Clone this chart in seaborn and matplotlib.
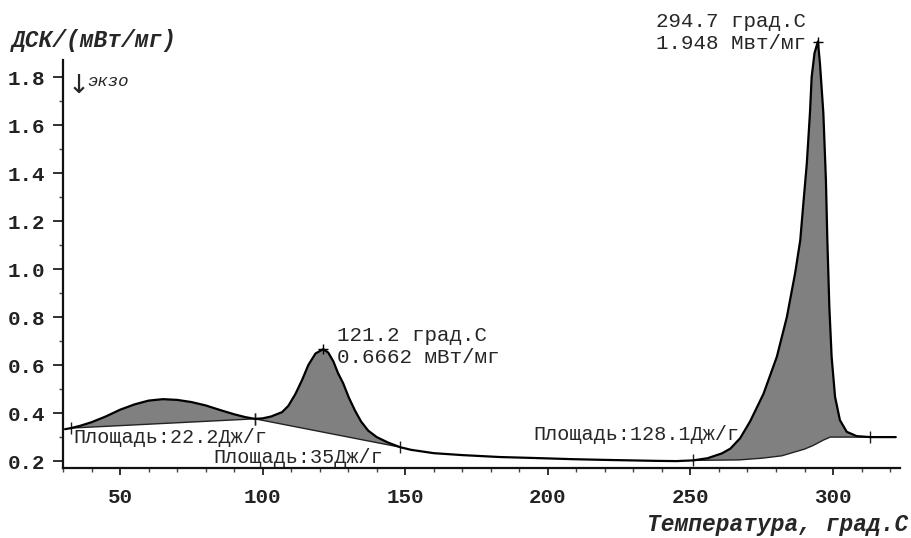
import numpy as np
import matplotlib.pyplot as plt
import seaborn as sns
from matplotlib.ticker import MultipleLocator, FormatStrFormatter

# DSC curve (temperature, grad C / mW per mg)
temp = [30.7, 32.8, 36, 40, 45, 50, 55, 60, 65, 70, 75, 80, 85, 90, 94, 97.3,
        100, 103, 106.8, 109, 111.5, 113.8, 116, 118.5, 121.2, 123, 124.8, 126.4,
        128.2, 130.2, 132.4, 134.5, 137, 140, 144, 148.2, 152, 156, 160, 170, 183,
        195, 208.8, 220, 238, 245, 251, 256, 261, 264, 267.4, 270.9, 275.6, 280.3,
        283.8, 286.7, 288.5, 289.6, 290.8, 291.9, 292.5, 293.5, 294.7, 295.4, 296.6,
        297.5, 298.0, 298.7, 299.5, 300.7, 302.4, 304.8, 308.3, 313, 322]
dsc = [0.333, 0.3375, 0.347, 0.362, 0.386, 0.414, 0.436, 0.452, 0.458, 0.455,
       0.446, 0.432, 0.413, 0.395, 0.383, 0.376,
       0.378, 0.386, 0.404, 0.43, 0.48, 0.5375, 0.60, 0.648, 0.6662, 0.652, 0.615,
       0.567, 0.525, 0.465, 0.41, 0.365, 0.327, 0.30, 0.277, 0.258, 0.247, 0.240,
       0.233, 0.225, 0.217, 0.213, 0.208, 0.205, 0.201, 0.200, 0.203, 0.212, 0.232,
       0.252, 0.295, 0.365, 0.48, 0.635, 0.80, 0.983, 1.12, 1.275, 1.44, 1.65,
       1.80, 1.90, 1.948, 1.858, 1.65, 1.37, 1.12, 0.843, 0.635, 0.468, 0.371,
       0.322, 0.304, 0.30, 0.30]

# integration baselines of the three peaks
base_t = [[32.8, 97.3],
          [97.3, 148.2],
          [251, 267, 275, 282, 286, 290, 293, 296.6, 299, 313]]
base_v = [[0.3375, 0.376],
          [0.376, 0.258],
          [0.203, 0.205, 0.212, 0.222, 0.236, 0.25, 0.265, 0.2875, 0.30, 0.30]]
area_labels = ['Площадь:22.2Дж/г', 'Площадь:35Дж/г', 'Площадь:128.1Дж/г']
area_x = [33.5, 82.6, 194.8]
area_y = [0.300, 0.2167, 0.3125]

peak_t = [121.2, 294.7]
peak_v = [0.6662, 1.948]
peak_units = ['мВт/мг', 'Мвт/мг']

sns.set_style('ticks')
plt.rcParams['font.family'] = ['Liberation Mono', 'DejaVu Sans Mono']

fig = plt.figure(figsize=(9.11, 5.38), dpi=100)
ax = fig.add_axes([0.0692, 0.130, 0.9188, 0.7585])

temp_a = np.array(temp)
dsc_a = np.array(dsc)

# shaded peak areas
for bt, bv in zip(base_t, base_v):
    m = (temp_a >= bt[0]) & (temp_a <= bt[-1])
    xs = np.concatenate([temp_a[m], bt[::-1]])
    ys = np.concatenate([dsc_a[m], bv[::-1]])
    ax.fill(xs, ys, color='#808080', lw=0, zorder=1, clip_on=False)
    ax.plot(bt, bv, color='#222222', lw=1.0, zorder=2)
    ax.plot([bt[0], bt[-1]], [bv[0], bv[-1]], ls='none', marker='|',
            ms=9, mew=1.0, color='#222222', zorder=3)

sns.lineplot(x=temp, y=dsc, ax=ax, color='black', lw=1.6, sort=False,
             estimator=None, zorder=4, clip_on=False)
ax.plot(peak_t, peak_v, ls='none', marker='+', ms=7, mew=1.0, color='black',
        zorder=5, clip_on=False)

for t, v, u in zip(peak_t, peak_v, peak_units):
    txt = f'{t:.1f} град.С\n{v:g} {u}'
    if t < 200:
        ax.annotate(txt, (t, v), xytext=(14, 3), textcoords='offset pixels',
                    ha='left', va='center', fontsize=15, linespacing=1.2,
                    annotation_clip=False)
    else:
        ax.annotate(txt, (t, v), xytext=(-162, 9), textcoords='offset pixels',
                    ha='left', va='center', fontsize=15, linespacing=1.2,
                    annotation_clip=False)

for lab, x, y in zip(area_labels, area_x, area_y):
    ax.text(x, y, lab, fontsize=14.5, ha='left', va='center', zorder=6)

ax.set_xlim(30.0, 323.5)
ax.set_ylim(0.171, 1.871)
ax.xaxis.set_major_locator(MultipleLocator(50))
ax.xaxis.set_minor_locator(MultipleLocator(10))
ax.yaxis.set_major_locator(MultipleLocator(0.2))
ax.yaxis.set_minor_locator(MultipleLocator(0.1))
ax.yaxis.set_major_formatter(FormatStrFormatter('%.1f'))
ax.set_xticks([50, 100, 150, 200, 250, 300])
ax.set_yticks(np.arange(0.2, 1.81, 0.2))

ax.tick_params(axis='both', which='major', direction='out', width=1.3,
               labelsize=15, colors='#222222')
ax.tick_params(axis='x', which='major', length=5, pad=9)
ax.tick_params(axis='y', which='major', length=7, pad=6)
ax.tick_params(axis='both', which='minor', direction='out', length=3, width=1.0,
               colors='#444444')
for lab in ax.get_xticklabels() + ax.get_yticklabels():
    lab.set_fontweight('bold')

sns.despine(ax=ax)
for s in ['left', 'bottom']:
    ax.spines[s].set_linewidth(1.6)
    ax.spines[s].set_color('#111111')

fig.text(12 / 911, 1 - 40 / 538, 'ДСК/(мВт/мг)', fontsize=16.5, fontweight='bold',
         fontstyle='italic', ha='left', va='center')
fig.text(908 / 911, 1 - 525 / 538, 'Температура, град.С', fontsize=16.5,
         fontweight='bold', fontstyle='italic', ha='right', va='center')
fig.text(68 / 911, 1 - 86 / 538, '↓', fontsize=19, ha='left', va='center',
         family=['DejaVu Sans', 'Liberation Mono'])
fig.text(87 / 911, 1 - 82 / 538, 'экзо', fontsize=12.5, fontstyle='italic',
         ha='left', va='center')

fig.savefig('out.png', dpi=100)
